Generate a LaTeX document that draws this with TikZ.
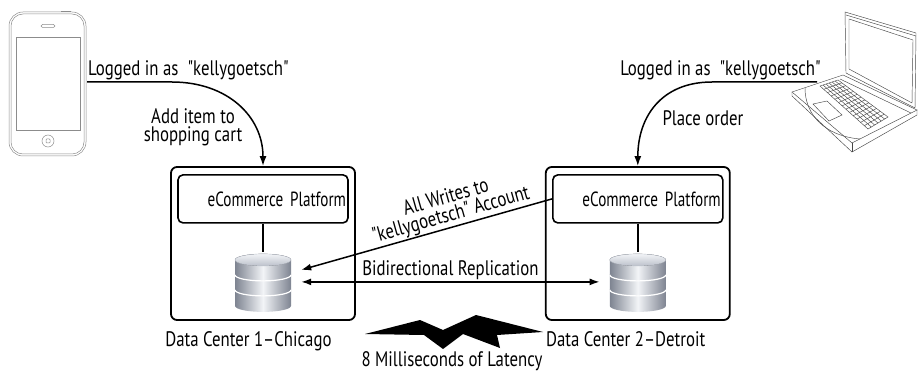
\documentclass[tikz,border=0pt]{standalone}
\usepackage{fontspec}
\setmainfont{PT Sans}[FakeStretch=0.8, Ligatures=TeXOff]
\newfontfamily\narrowsans{PT Sans}[FakeStretch=0.74, Ligatures=TeXOff]
\usetikzlibrary{arrows.meta, positioning, calc}

\definecolor{dbshadow}{RGB}{126,132,145}
\definecolor{dbshine}{RGB}{242,244,247}
\definecolor{dbtop}{RGB}{188,193,203}
\definecolor{phonegray}{RGB}{140,140,140}
\definecolor{laptopgray}{RGB}{70,70,70}

% stacked disc storage icon, centred on a node
\newcommand{\dbstack}[1]{%
  \begin{scope}[shift={(#1)}]
    \foreach \ya/\yb in {8/24, -7/8, -22/-7} {
      \path[left color=dbshadow, right color=dbshadow, middle color=dbshine]
        (-28,\ya) -- (-28,\yb)
        arc[start angle=180, end angle=360, x radius=28pt, y radius=6pt]
        -- (28,\ya)
        arc[start angle=0, end angle=180, x radius=28pt, y radius=6pt] -- cycle;
    }
    \foreach \y in {-7, 8}
      \draw[white, line width=1.2pt] (-28,\y)
        arc[start angle=180, end angle=360, x radius=28pt, y radius=6pt];
    \fill[top color=dbshine, bottom color=dbtop, draw=dbtop]
      (0,-22) ellipse [x radius=28pt, y radius=6pt];
  \end{scope}}

\begin{document}
\begin{tikzpicture}[
    x=1pt, y=-1pt,
    font=\fontsize{21}{18}\selectfont,
    dcbox/.style={
        draw,
        rounded corners=6pt,
        minimum width=184pt,
        minimum height=153pt,
        line width=1.8pt
    },
    platform/.style={
        draw,
        rounded corners=5pt,
        minimum width=170pt,
        minimum height=48pt,
        text width=166pt,
        inner xsep=2pt,
        align=right,
        line width=1.6pt,
        font=\narrowsans\fontsize{20.5}{20}\selectfont
    },
    dbslot/.style={
        minimum width=76pt,
        minimum height=60pt,
        inner sep=0pt
    },
    txt/.style={inner sep=1pt},
    link/.style={line width=1.5pt},
    arrow/.style={
        -{Latex[length=10pt, width=7pt]},
        line width=1.5pt
    },
    biarrow/.style={
        {Latex[length=10pt, width=7pt]}-{Latex[length=10pt, width=7pt]},
        line width=1.5pt
    },
    phone/.style={draw=phonegray, line width=0.5pt},
    laptop/.style={draw=laptopgray, line width=0.45pt}
]
\useasboundingbox (0,0) rectangle (918,371);

% phone
\draw[phone, rounded corners=14pt] (9,12) rectangle (86,156);
\draw[phone, rounded corners=12pt] (11,14) rectangle (84,154);
\draw[phone] (16,37) rectangle (80,130);
\draw[phone, rounded corners=1.5pt] (41,24.5) rectangle (55,27.5);
\draw[phone] (48,141) circle (6pt);
\draw[phone, rounded corners=0.8pt] (46,139) rectangle (50,143);
\draw[phone] (61,11) -- (71,11);
\coordinate (phoneout) at (87,82);

% laptop
\draw[laptop] (845,12) -- (916,33) -- (915,108) -- (846,73) -- cycle;
\draw[laptop] (846,15) -- (916,36);
\draw[laptop] (849,19) -- (913,40) -- (912,103) -- (849,69) -- cycle;
\draw[laptop] (792,92) -- (843,75) -- (917,110) -- (852,143) -- cycle;
\draw[laptop] (792,92) -- (792,96) -- (852,152) -- (917,115) -- (917,110);
\draw[laptop] (852,143) -- (852,152);
\draw[laptop] (840,79) -- (911,113);
\coordinate (k1) at (820,86);
\coordinate (k2) at (838,80);
\coordinate (k3) at (888,117);
\coordinate (k4) at (868,129);
\draw[laptop] (k1) -- (k2) -- (k3) -- (k4) -- cycle;
\foreach \i in {1,...,5}
    \draw[laptop] ($(k1)!\i/6!(k2)$) -- ($(k4)!\i/6!(k3)$);
\foreach \j in {1,...,12}
    \draw[laptop] ($(k1)!\j/13!(k4)$) -- ($(k2)!\j/13!(k3)$);
\draw[laptop] (813,104) -- (827,101) -- (842,115) -- (829,121) -- cycle;
\draw[laptop] (805,88) .. controls (805,115) and (825,136) .. (860,139);
\coordinate (laptopout) at (817,82);

% Chicago data center
\node[dcbox] (dc1) at (263,243.5) {};
\node[platform, below=8pt of dc1.north] (ec1) {eCommerce Platform};
\node[dbslot, below=28pt of ec1] (db1) {};
\dbstack{db1}
\draw[link] (ec1) -- (db1);
\node[txt, below right=9pt and -6pt of dc1.south west] (city1) {Data Center 1–Chicago};

% Detroit data center
\node[dcbox, right=189pt of dc1] (dc2) {};
\node[platform, below=8pt of dc2.north] (ec2) {eCommerce Platform};
\node[dbslot, below=28pt of ec2] (db2) {};
\dbstack{db2}
\draw[link] (ec2) -- (db2);
\node[txt, below right=9pt and 0pt of dc2.south west] (city2) {Data Center 2–Detroit};

% user sessions
\node[txt, anchor=south west] (login1) at ([yshift=1pt]phoneout) {Logged in as\ \ "kellygoetsch"};
\node[txt, anchor=south east] (login2) at ([xshift=5pt, yshift=1pt]laptopout) {Logged in as\ \ "kellygoetsch"};
\draw[arrow] (phoneout) -- ++(85pt,0pt) .. controls +(55pt,0pt) and +(0pt,50pt) .. (dc1.north);
\draw[arrow] (laptopout) -- ++(-105pt,0pt) .. controls +(-50pt,0pt) and +(0pt,50pt) .. (dc2.north);
\node[txt, align=center] (addcart) at (193,127) {Add item to\\shopping cart};
\node[txt] (order) at (703,118) {Place order};

% writes and replication
\draw[arrow] (ec2.west) -- node[txt, sloped, above, align=center, pos=0.39] {All Writes to\\"kellygoetsch" Account} ([yshift=12pt]db1.east);
\draw[biarrow] (db1.east) -- node[txt, above] {Bidirectional Replication} (db2.west);

% latency bolt
\fill (365,334) -- (420,320) -- (443,330) -- (476,315) -- (543,332)
    -- (497,335) -- (500,348) -- (463,334) -- (443,349)
    -- (424,335) -- cycle;
\node[txt] (latency) at (452,361) {8 Milliseconds of Latency};

\end{tikzpicture}
\end{document}
